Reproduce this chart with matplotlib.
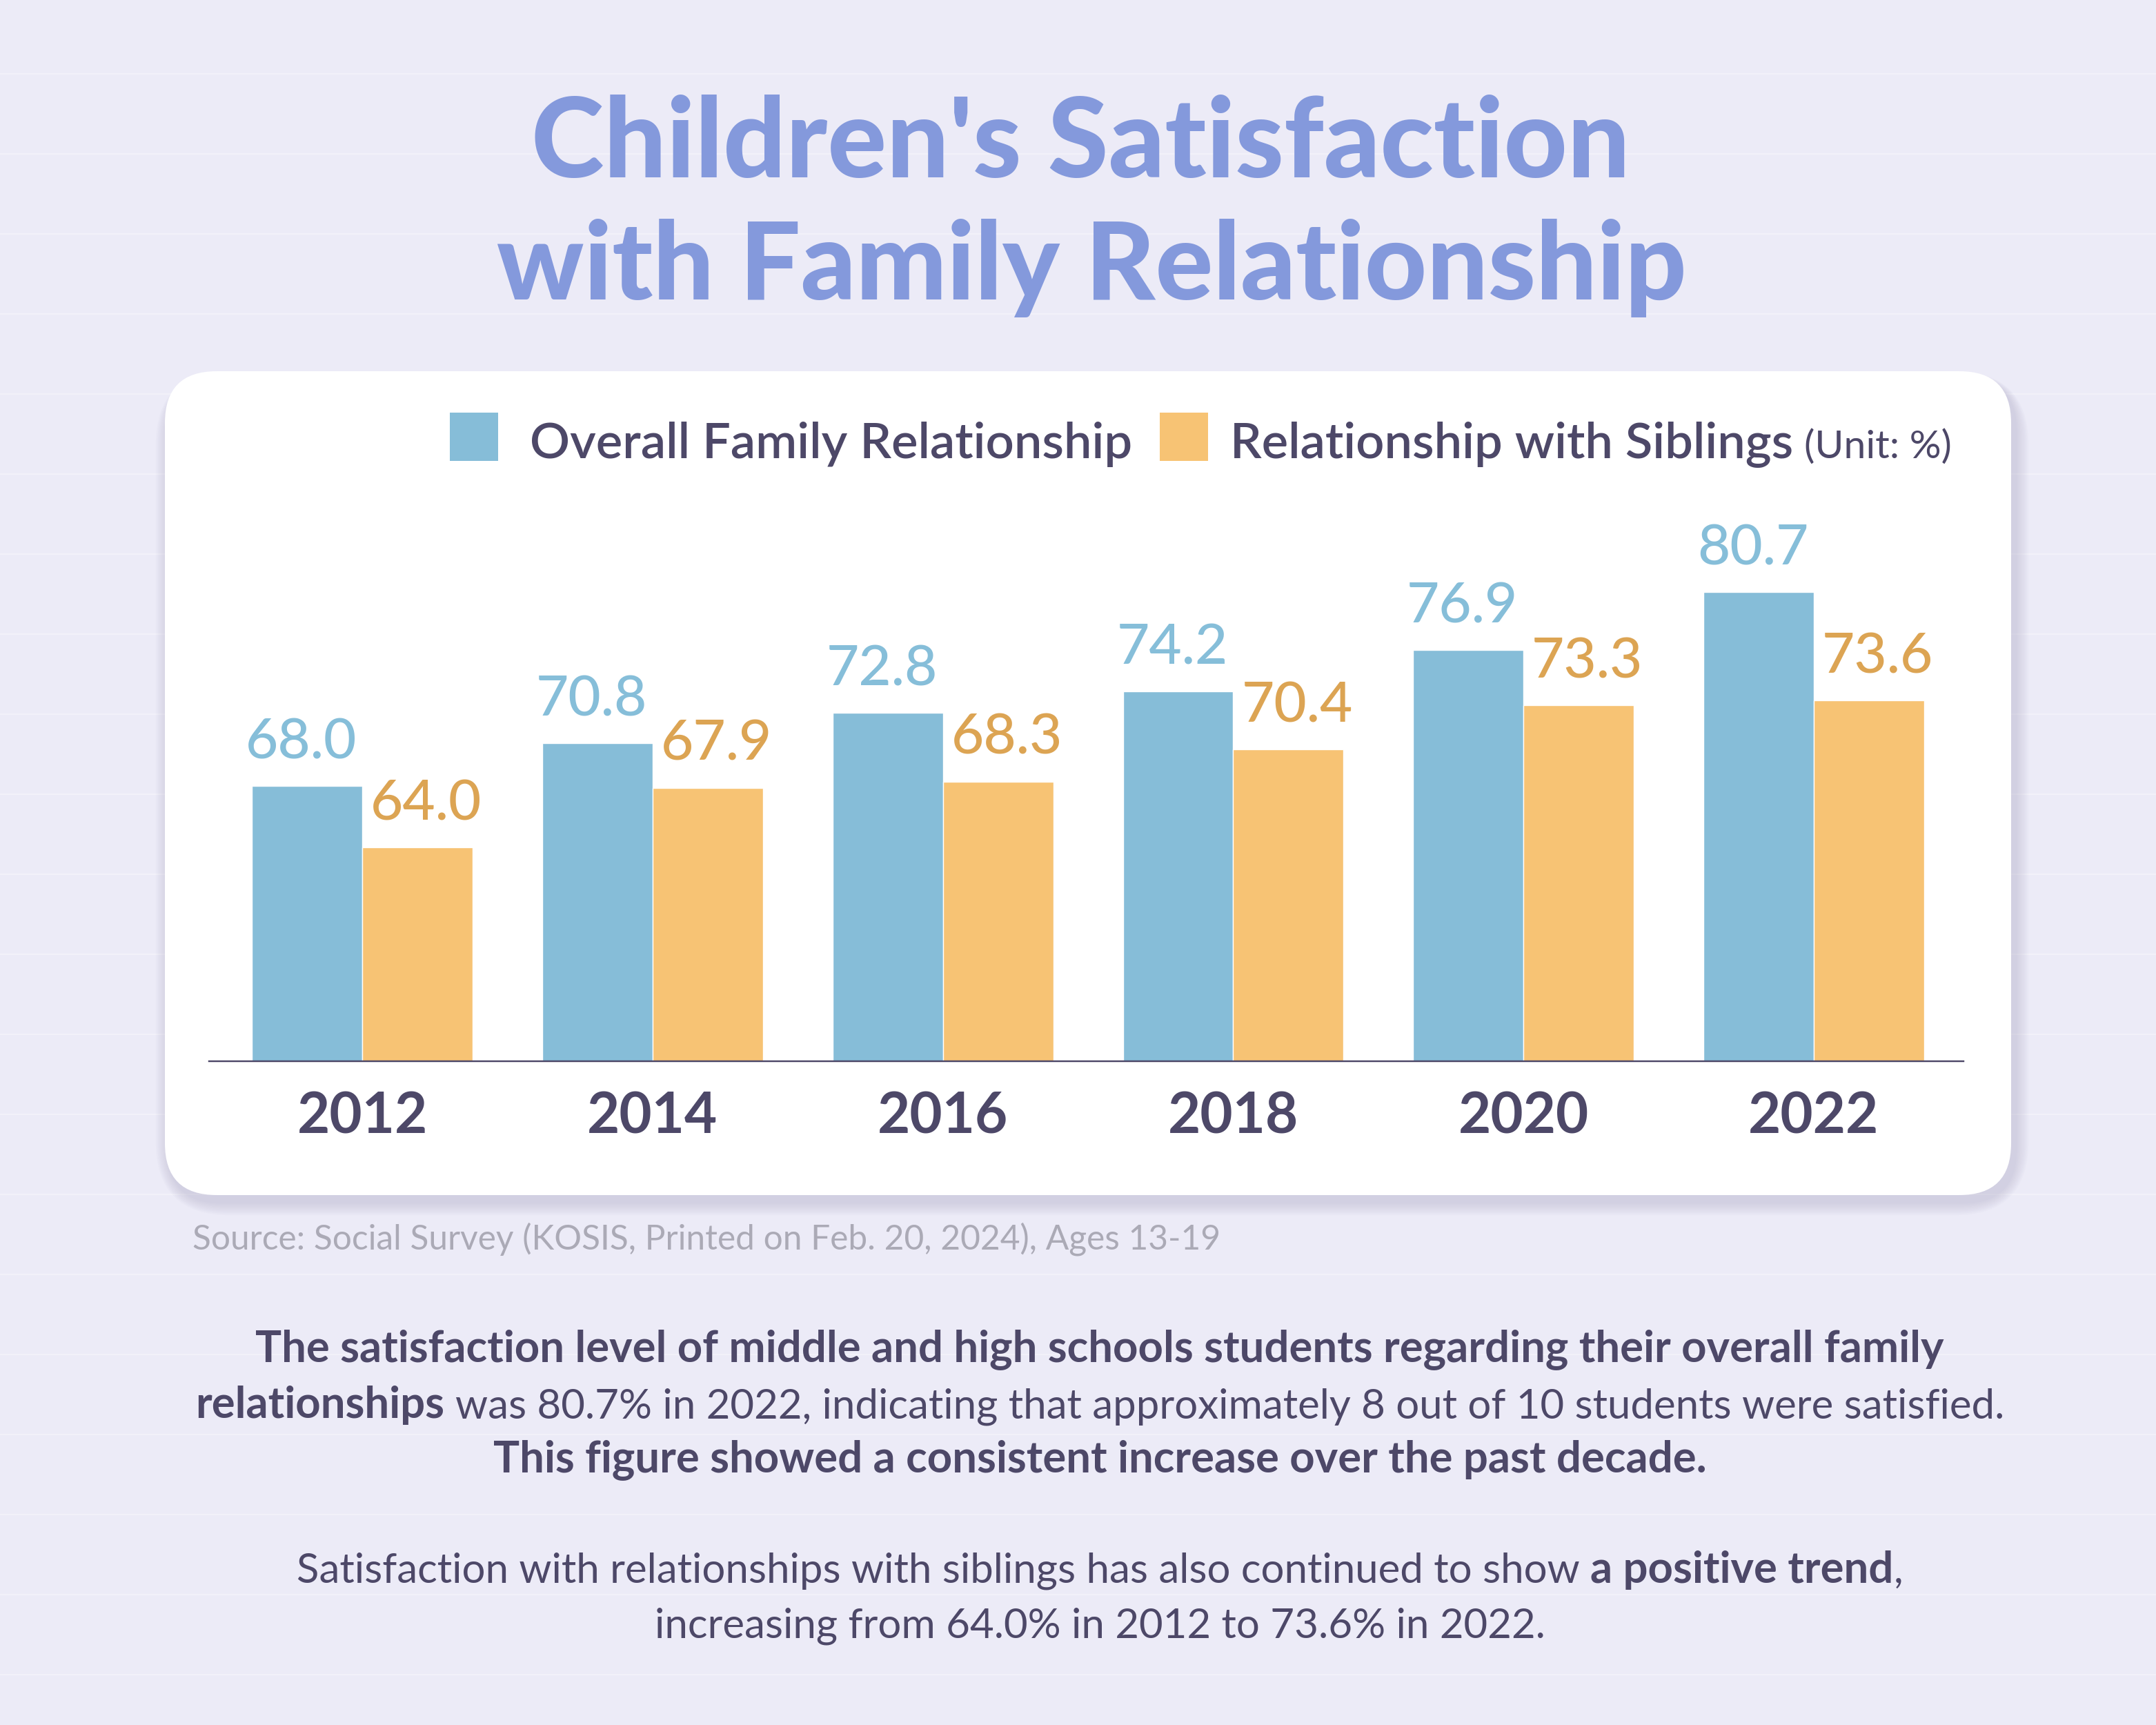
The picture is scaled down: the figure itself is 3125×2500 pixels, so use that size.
import matplotlib
matplotlib.use('Agg')
import matplotlib.pyplot as plt
from matplotlib.patches import FancyBboxPatch, Rectangle
from matplotlib import font_manager
import numpy as np

# ---------------- data ----------------
years = ['2012', '2014', '2016', '2018', '2020', '2022']
overall = [68.0, 70.8, 72.8, 74.2, 76.9, 80.7]
siblings = [64.0, 67.9, 68.3, 70.4, 73.3, 73.6]
series_names = ['Overall Family Relationship', 'Relationship with Siblings']
unit_label = '(Unit: %)'
title_lines = ["Children's Satisfaction", "with Family Relationship"]
source_text = 'Source: Social Survey (KOSIS, Printed on Feb. 20, 2024), Ages 13-19'
body_lines = [
    [("The satisfaction level of middle and high schools students regarding their overall family", 'bold')],
    [("relationships", 'bold'),
     (" was 80.7% in 2022, indicating that approximately 8 out of 10 students were satisfied.", 'normal')],
    [("This figure showed a consistent increase over the past decade.", 'bold')],
    [("Satisfaction with relationships with siblings has also continued to show ", 'normal'),
     ("a positive trend", 'bold'), (",", 'normal')],
    [("increasing from 64.0% in 2012 to 73.6% in 2022.", 'normal')],
]

# ---------------- style ----------------
BG = '#ECEBF7'
BLUE = '#86BDD8'
ORANGE = '#F7C374'
BLUE_TXT = '#86BED9'
ORANGE_TXT = '#DCA453'
DARK = '#4D4868'
TITLE = '#8499DC'
GREY = '#ABAAB6'

avail = {f.name for f in font_manager.fontManager.ttflist}
FONT = 'Lato' if 'Lato' in avail else 'DejaVu Sans'

W, H = 3125, 2500
fig = plt.figure(figsize=(W / 250, H / 250), dpi=250)
fig.patch.set_facecolor(BG)

bg = fig.add_axes([0, 0, 1, 1])
bg.set_xlim(0, W)
bg.set_ylim(H, 0)
bg.axis('off')
bg.set_zorder(0)

# faint paper lines
for yy in np.arange(107, H, 116):
    bg.axhline(yy, color='white', lw=0.6, alpha=0.35, zorder=0)

# card shadow + card
for i in range(8):
    g = 4 + i * 4
    sh = FancyBboxPatch((239 - g * 0.6 + 6, 538 - g * 0.3 + 10), 2676 + g * 1.2, 1194 + g * 0.9,
                        boxstyle='round,pad=0,rounding_size=%d' % (75 + g),
                        fc='#8F8AB0', ec='none', alpha=0.035, zorder=1)
    bg.add_patch(sh)
card = FancyBboxPatch((239, 538), 2676, 1194, boxstyle='round,pad=0,rounding_size=75',
                      fc='white', ec='none', zorder=2)
bg.add_patch(card)

renderer = fig.canvas.get_renderer()


def tw(t):
    return t.get_window_extent(renderer).width


def space_w(size, weight):
    a = bg.text(0, -100, 'x x', fontsize=size, fontweight=weight, family=FONT)
    b = bg.text(0, -100, 'xx', fontsize=size, fontweight=weight, family=FONT)
    w = tw(a) - tw(b)
    a.remove(); b.remove()
    return w


SIZES = {'bold': 18.3, 'normal': 17.3}


def rich_line(segments, xc, y, color):
    parts = []
    total = 0
    for s, wt in segments:
        size = SIZES[wt]
        lead = len(s) - len(s.lstrip(' '))
        trail = len(s) - len(s.rstrip(' '))
        sw = space_w(size, wt)
        t = bg.text(0, y, s.strip(' '), fontsize=size, fontweight=wt, family=FONT,
                    color=color, ha='left', va='baseline', zorder=5)
        w = tw(t)
        parts.append((t, lead * sw, w, trail * sw))
        total += lead * sw + w + trail * sw
    x = xc - total / 2
    for t, l, w, r in parts:
        x += l
        t.set_x(x)
        x += w + r


# title
bg.text(1566, 257, title_lines[0], fontsize=46, fontweight='black', family=FONT,
        color=TITLE, ha='center', va='baseline', zorder=5)
bg.text(1582, 434, title_lines[1], fontsize=45, fontweight='black', family=FONT,
        color=TITLE, ha='center', va='baseline', zorder=5)

# legend
x = 652
for name, col, gap in zip(series_names, [BLUE, ORANGE], [46, 32]):
    bg.add_patch(Rectangle((x, 598), 70, 70, fc=col, ec='none', zorder=5))
    t = bg.text(x + 70 + gap, 664, name, fontsize=20.8, fontweight='semibold', family=FONT,
                color=DARK, ha='left', va='baseline', zorder=5)
    x = x + 70 + gap + tw(t) + 40
ut = bg.text(x - 24, 664, unit_label, fontsize=16.5, fontweight='normal', family=FONT,
             color=DARK, ha='left', va='baseline', zorder=5)

# source
bg.text(279, 1810, source_text, fontsize=14.3, fontweight='normal', family=FONT,
        color=GREY, ha='left', va='baseline', zorder=5)

# body text
body_y = [1973, 2055, 2133, 2294, 2374]
for segs, yy in zip(body_lines, body_y):
    rich_line(segs, 1594, yy, DARK)

# ---------------- chart ----------------
base_px = 1538
ax = fig.add_axes([303 / W, (H - base_px) / H, (2846 - 303) / W, 775 / H])
ax.set_zorder(3)
ax.patch.set_alpha(0)
xs = np.arange(len(years))
bw = 0.38
ax.bar(xs - bw / 2, overall, bw, color=BLUE, edgecolor='white', linewidth=0.4)
ax.bar(xs + bw / 2, siblings, bw, color=ORANGE, edgecolor='white', linewidth=0.4)
ax.set_xlim(-0.528, 5.516)
ax.set_ylim(50, 85)
for xi, v in zip(xs, overall):
    ax.annotate(f'{v:.1f}', (xi - bw / 2 - 0.02, v), xytext=(0, 11.5), textcoords='offset points',
                ha='center', va='baseline', fontsize=23.5, fontweight='medium', family=FONT,
                color=BLUE_TXT)
for xi, v in zip(xs, siblings):
    ax.annotate(f'{v:.1f}', (xi + bw / 2 + 0.03, v), xytext=(0, 11.5), textcoords='offset points',
                ha='center', va='baseline', fontsize=23.5, fontweight='medium', family=FONT,
                color=ORANGE_TXT)
for s in ['top', 'left', 'right']:
    ax.spines[s].set_visible(False)
ax.spines['bottom'].set_color(DARK)
ax.spines['bottom'].set_linewidth(0.7)
ax.set_yticks([])
ax.set_xticks(xs, years)
ax.tick_params(axis='x', length=0, pad=12.5, labelsize=23.5, labelcolor=DARK)
for lbl in ax.get_xticklabels():
    lbl.set_fontweight('bold')
    lbl.set_family(FONT)

fig.savefig('out.png', dpi=250, facecolor=BG)
